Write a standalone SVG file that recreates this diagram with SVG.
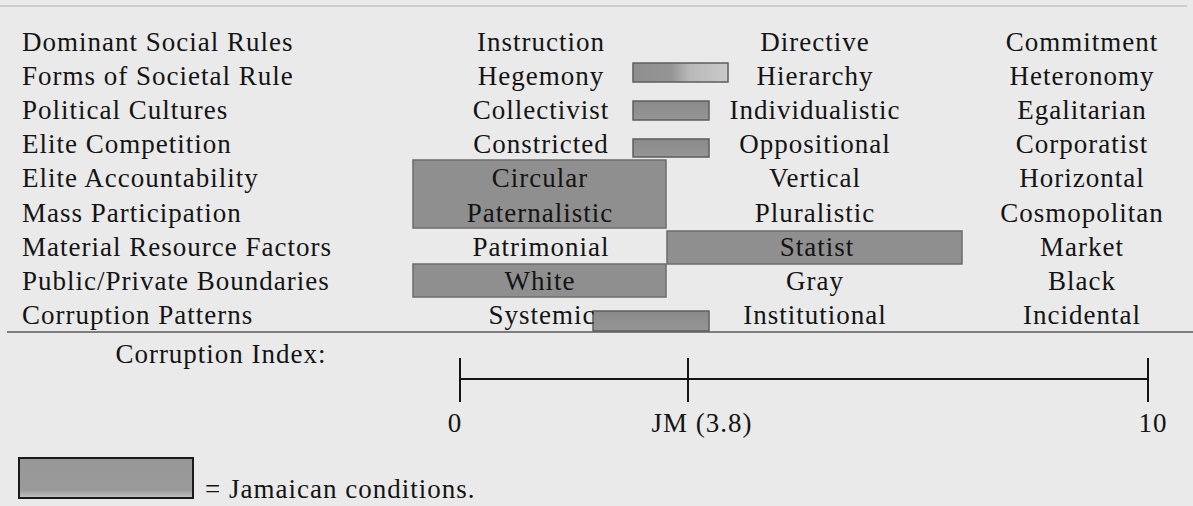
<svg xmlns="http://www.w3.org/2000/svg" width="1193" height="506" viewBox="0 0 1193 506">
<style>
text{font-family:"Liberation Serif","Times New Roman",serif;font-size:27px;letter-spacing:1px;fill:#141414}
.c{text-anchor:middle}
.box{fill:#8f8f8f;stroke:#6c6c6c;stroke-width:1.5}
.bar{stroke:#5e5e5e;stroke-width:1.5}
.ax{stroke:#151515;stroke-width:2;fill:none}
</style>
<defs>
<linearGradient id="hatch" x1="0" y1="0" x2="1" y2="0">
<stop offset="0" stop-color="#8e8e8e"/>
<stop offset="0.4" stop-color="#959595"/>
<stop offset="0.6" stop-color="#b9b9b9"/>
<stop offset="1" stop-color="#c9c9c9"/>
</linearGradient>
<linearGradient id="solid" x1="0" y1="0" x2="0" y2="1">
<stop offset="0" stop-color="#8a8a8a"/>
<stop offset="1" stop-color="#959595"/>
</linearGradient>
<linearGradient id="leg" x1="0" y1="0" x2="0" y2="1">
<stop offset="0" stop-color="#979797"/>
<stop offset="0.8" stop-color="#9a9a9a"/>
<stop offset="1" stop-color="#c4c4c4"/>
</linearGradient>
</defs>
<rect width="1193" height="506" fill="#eaeaea"/>
<line x1="0" y1="6" x2="1187" y2="6" stroke="#cdcdcd" stroke-width="2"/>

<g id="highlights">
<rect id="box-circular" class="box" x="413" y="160" width="253" height="68"/>
<rect id="box-statist" class="box" x="667" y="231" width="295" height="33"/>
<rect id="box-white" class="box" x="413" y="264" width="253" height="33"/>
<rect id="bar-hegemony" class="bar" x="633" y="63" width="95" height="19" fill="url(#hatch)"/>
<rect id="bar-collectivist" class="bar" x="633" y="101" width="76" height="19" fill="url(#solid)"/>
<rect id="bar-constricted" class="bar" x="633" y="139" width="76" height="18" fill="url(#solid)"/>
<rect id="bar-systemic" class="bar" x="593" y="311" width="116" height="20" fill="url(#solid)"/>
</g>

<g id="row-dominant">
<text x="22" y="51">Dominant Social Rules</text>
<text class="c" x="541" y="51">Instruction</text>
<text class="c" x="815" y="51">Directive</text>
<text class="c" x="1082" y="51">Commitment</text>
</g>
<g id="row-forms">
<text x="22" y="85">Forms of Societal Rule</text>
<text class="c" x="541" y="85">Hegemony</text>
<text class="c" x="815" y="85">Hierarchy</text>
<text class="c" x="1082" y="85">Heteronomy</text>
</g>
<g id="row-political">
<text x="22" y="119">Political Cultures</text>
<text class="c" x="541" y="119">Collectivist</text>
<text class="c" x="815" y="119">Individualistic</text>
<text class="c" x="1082" y="119">Egalitarian</text>
</g>
<g id="row-competition">
<text x="22" y="153">Elite Competition</text>
<text class="c" x="541" y="153">Constricted</text>
<text class="c" x="815" y="153">Oppositional</text>
<text class="c" x="1082" y="153">Corporatist</text>
</g>
<g id="row-accountability">
<text x="22" y="187">Elite Accountability</text>
<text class="c" x="540" y="187">Circular</text>
<text class="c" x="815" y="187">Vertical</text>
<text class="c" x="1082" y="187">Horizontal</text>
</g>
<g id="row-mass">
<text x="22" y="222">Mass Participation</text>
<text class="c" x="540" y="222">Paternalistic</text>
<text class="c" x="815" y="222">Pluralistic</text>
<text class="c" x="1082" y="222">Cosmopolitan</text>
</g>
<g id="row-material">
<text x="22" y="256">Material Resource Factors</text>
<text class="c" x="541" y="256">Patrimonial</text>
<text class="c" x="817" y="256">Statist</text>
<text class="c" x="1082" y="256">Market</text>
</g>
<g id="row-boundaries">
<text x="22" y="290">Public/Private Boundaries</text>
<text class="c" x="540" y="290">White</text>
<text class="c" x="815" y="290">Gray</text>
<text class="c" x="1082" y="290">Black</text>
</g>
<g id="row-corruption">
<text x="22" y="324">Corruption Patterns</text>
<text class="c" x="542" y="324">Systemic</text>
<text class="c" x="815" y="324">Institutional</text>
<text class="c" x="1082" y="324">Incidental</text>
</g>

<line x1="7" y1="332" x2="1193" y2="332" stroke="#5a5a5a" stroke-width="1.5"/>

<g id="index-label">
<text class="c" x="221" y="363">Corruption Index:</text>
</g>
<g id="connectors">
<line class="ax" x1="460" y1="379" x2="1148" y2="379"/>
<line class="ax" x1="460" y1="358" x2="460" y2="402"/>
<line class="ax" x1="688" y1="358" x2="688" y2="402"/>
<line class="ax" x1="1148" y1="358" x2="1148" y2="402"/>
</g>
<g id="axis-labels">
<text class="c" x="455" y="432">0</text>
<text class="c" x="702" y="432">JM (3.8)</text>
<text class="c" x="1153" y="432">10</text>
</g>

<g id="legend">
<rect x="19" y="458" width="174" height="40" fill="url(#leg)" stroke="#1a1a1a" stroke-width="2"/>
<text x="205" y="498">= Jamaican conditions.</text>
</g>
</svg>
